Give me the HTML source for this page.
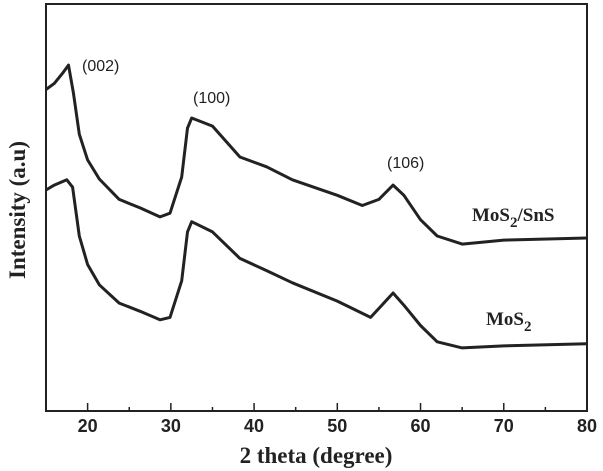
<!DOCTYPE html>
<html><head><meta charset="utf-8"><style>
html,body{margin:0;padding:0;background:#fff;}
svg{display:block;}
</style></head><body>
<svg id="chart" width="603" height="471" viewBox="0 0 603 471" xmlns="http://www.w3.org/2000/svg">
<g id="plot"></g>
</svg>
<script>
const xTicks=[20,30,40,50,60,70,80];
const xMinor=[25,35,45,55,65,75];
const sX=[15,16,17,17.7,18.3,19,20,21.4,23.8,26.3,28.7,29.9,31.3,32,32.5,35,38.3,41.5,44.6,50,53,55,56.7,58,60,62,65,70,80];
const sY=[79,80.5,83,85,78,68,61.7,57,52,49.9,47.7,48.6,57.5,69.5,72,70,62.4,60,56.8,53,50.5,52,55.5,53,47,43,41,42,42.5];
const mX=[15,16,17.5,18.2,19,20,21.4,23.8,26.3,28.7,29.9,31.3,32,32.5,35,38.3,41.5,44.6,50,54,56.7,58,60,62,65,70,80];
const mY=[54.3,55.5,56.8,55,43,36,31,26.5,24.5,22.4,23,32,44,46.5,44,37.5,34.5,31.5,27,23,29,26,21,17,15.5,16,16.5];
const NS='http://www.w3.org/2000/svg';
const L=46,R=587,T=4,B=411;
const xs=v=>L+(v-15)/(80-15)*(R-L);
const ys=v=>B-v*(B-T)/100;
const g=document.getElementById('plot');
function mk(tag,attrs){const e=document.createElementNS(NS,tag);for(const k in attrs)e.setAttribute(k,attrs[k]);g.appendChild(e);return e;}
const frame=mk('rect',{x:L,y:T,width:R-L,height:B-T,fill:'none',stroke:'#222','stroke-width':2});


xTicks.forEach(t=>{
 const l=mk('line',{x1:xs(t),x2:xs(t),y1:B,y2:B-8,stroke:'#222','stroke-width':1.5});
 
 
 const tx=mk('text',{x:xs(t),y:432,'text-anchor':'middle','font-family':'Liberation Sans, sans-serif','font-weight':'bold','font-size':18,fill:'#222'});
 tx.textContent=t;
 
 
});
xMinor.forEach(t=>{
 const l=mk('line',{x1:xs(t),x2:xs(t),y1:B,y2:B-4,stroke:'#222','stroke-width':1.5});
 
 
});
function series(X,Y,name){
 const d=X.map((x,i)=>(i?'L':'M')+xs(x).toFixed(1)+','+ys(Y[i]).toFixed(1)).join(' ');
 const p=mk('path',{d:d,fill:'none',stroke:'#222','stroke-width':3,'stroke-linejoin':'round'});
 
 
}
series(sX,sY,'series-mos2-sns');
series(mX,mY,'series-mos2');
function label(x,y,txt,name,opts){
 const t=mk('text',Object.assign({x:x,y:y,'font-family':'Liberation Sans, sans-serif','font-size':16,fill:'#222'},opts||{}));
 t.innerHTML=txt;
 
 
 return t;
}
label(82,71,'(002)','peak-label-002');
label(193,103,'(100)','peak-label-100');
label(387,168,'(106)','peak-label-106');
label(472,221,'MoS<tspan dy="6" font-size="15">2</tspan><tspan dy="-6">/SnS</tspan>','series-label-mos2-sns',{'font-family':'Liberation Serif, serif','font-weight':'bold','font-size':19});
label(486,325,'MoS<tspan dy="6" font-size="15">2</tspan>','series-label-mos2',{'font-family':'Liberation Serif, serif','font-weight':'bold','font-size':19});
label(316,463,'2 theta (degree)','x-axis-title',{'text-anchor':'middle','font-family':'Liberation Serif, serif','font-weight':'bold','font-size':23});
label(0,0,'Intensity (a.u)','y-axis-title',{'text-anchor':'middle','font-family':'Liberation Serif, serif','font-weight':'bold','font-size':23,transform:'translate(25,210) rotate(-90)'});
</script>
</body></html>
